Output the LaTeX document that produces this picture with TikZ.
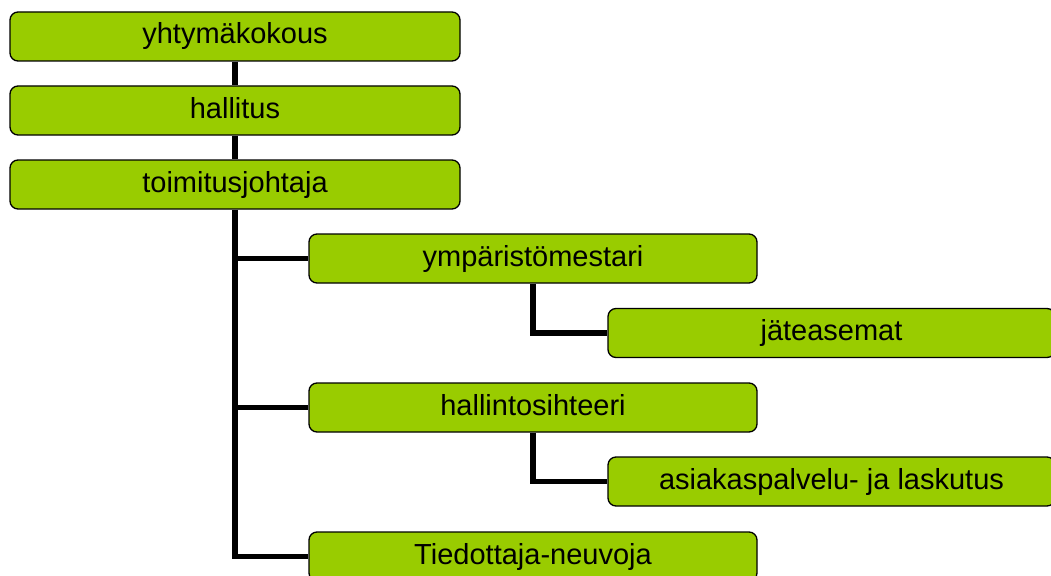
\documentclass[tikz,border=0pt]{standalone}
\usepackage{fontspec}
\setmainfont{Liberation Sans}
\usetikzlibrary{backgrounds}
\definecolor{boxgreen}{RGB}{153,204,0}
\tikzset{
  orgbox/.style={rectangle, rounded corners=8pt, draw=black, line width=1.3pt,
    fill=boxgreen, minimum height=49pt, inner sep=0pt,
    font=\fontsize{29}{34}\selectfont, text height=21pt, text depth=6pt},
  wide/.style={orgbox, minimum width=450pt},
  mid/.style={orgbox, minimum width=448pt},
  sub/.style={orgbox, minimum width=447pt},
  conn/.style={line width=5.5pt, draw=black, line join=miter}
}
\begin{document}
\begin{tikzpicture}[x=1pt,y=-1pt]
\useasboundingbox (0,0) rectangle (1051,575);
\clip (0,0) rectangle (1051,575);
\node[wide] (yk) at (235,36.5) {yhtymäkokous};
\node[wide] (ha) at (235,110.5) {hallitus};
\node[wide] (tj) at (235,184.5) {toimitusjohtaja};
\node[mid] (ym) at (533,258.5) {ympäristömestari};
\node[sub] (ja) at (831.5,333) {jäteasemat};
\node[mid] (hs) at (533,407.5) {hallintosihteeri};
\node[sub] (ak) at (831.5,481.5) {asiakaspalvelu- ja laskutus};
\node[mid] (tn) at (533,556.5) {Tiedottaja-neuvoja};
\begin{scope}[on background layer]
\draw[conn] (yk.south) -- (ha.north);
\draw[conn] (ha.south) -- (tj.north);
\draw[conn] (tj.south) -- (tj.south |- tn.west) -- (tn.west);
\draw[conn] (tj.south |- ym.west) -- (ym.west);
\draw[conn] (tj.south |- hs.west) -- (hs.west);
\draw[conn] (ym.south) -- (ym.south |- ja.west) -- (ja.west);
\draw[conn] (hs.south) -- (hs.south |- ak.west) -- (ak.west);
\end{scope}
\end{tikzpicture}
\end{document}
